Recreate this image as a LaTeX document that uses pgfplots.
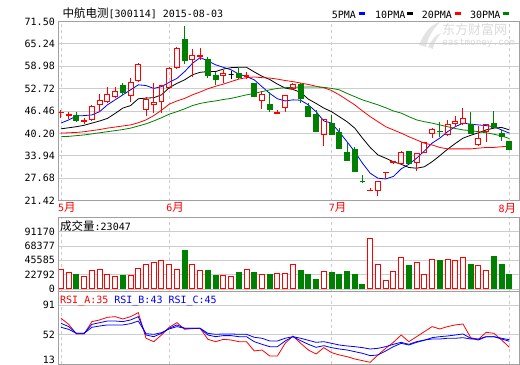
\documentclass[border=0pt]{standalone}
\usepackage{fontspec}
\usepackage{pgfplots}
\usepackage{pgfplotstable}
\pgfplotsset{compat=1.18}
\newfontfamily\cjk{Noto Sans CJK SC}
\newfontfamily\mono{DejaVu Sans Mono}
\newcommand\M[1]{{\mono\fontsize{10bp}{10bp}\selectfont #1}}
\newcommand\C[1]{{\cjk\fontsize{11.5bp}{12bp}\selectfont #1}}
\definecolor{kred}{RGB}{255,0,0}
\definecolor{kgreen}{RGB}{0,128,0}
\definecolor{kblue}{RGB}{0,0,255}
\definecolor{framec}{RGB}{160,160,160}
\definecolor{gridc}{RGB}{205,205,205}

\pgfplotstableread{
i o h l c k
0 46.05 46.8 44.6 46.15 1
1 45.3 46.3 44.3 45.4 1
2 45.1 46.1 43.5 43.9 2
3 43.6 44.5 42.8 43.7 1
4 44.2 48.2 43.7 47.8 1
5 48.4 51.3 46.1 49.3 1
6 49.1 53.1 48.6 51.2 1
7 50.6 53.3 50.0 52.0 1
8 53.7 54.4 51.0 51.6 2
9 50.7 55.6 48.9 54.5 1
10 54.9 59.8 54.7 59.55 1
11 46.8 50.3 45.0 49.6 1
12 48.4 54.2 45.9 48.9 1
13 49.1 53.8 45.8 53.5 1
14 53.0 58.9 52.7 58.4 1
15 58.6 64.5 58.4 64.0 1
16 66.6 70.3 59.6 60.6 2
17 60.9 63.7 56.1 62.0 1
18 61.8 64.0 60.8 62.0 1
19 61.0 61.5 55.8 56.4 2
20 56.3 57.5 53.8 55.3 2
21 56.4 58.0 54.2 57.1 1
22 56.6 57.7 55.4 56.6 0
23 56.9 58.6 55.4 55.8 2
24 56.0 57.3 55.4 56.3 1
25 54.2 54.4 50.5 50.5 2
26 49.3 52.1 47.0 51.0 1
27 48.4 51.7 46.3 46.8 2
28 45.9 46.8 45.6 46.0 1
29 47.5 51.0 46.3 50.7 1
30 52.8 54.2 52.4 54.0 1
31 53.8 54.2 48.6 50.0 2
32 47.7 48.6 44.9 44.9 2
33 45.4 46.8 40.7 40.7 2
34 39.8 44.0 36.8 44.0 1
35 43.0 45.4 40.0 40.0 2
36 40.4 41.7 36.1 36.1 2
37 34.9 37.6 32.6 32.6 2
38 35.6 36.5 29.5 29.5 2
39 26.85 28.6 26.6 26.75 2
40 24.3 24.9 24.3 24.4 1
41 24.2 26.9 22.6 26.9 1
42 29.2 29.5 27.8 29.35 1
43 32.0 32.5 31.7 32.4 1
44 31.9 35.3 31.6 35.0 1
45 35.3 35.3 31.9 31.9 2
46 32.1 34.7 29.6 34.7 1
47 34.9 37.9 34.7 37.6 1
48 40.1 41.7 38.9 41.2 1
49 40.8 43.3 39.3 40.7 2
50 39.8 44.0 39.6 42.6 1
51 43.0 45.2 41.9 43.5 1
52 43.0 47.4 42.6 44.4 1
53 42.6 46.3 40.3 40.3 2
54 37.0 42.4 36.6 38.9 1
55 40.7 42.9 37.9 42.6 1
56 42.9 46.5 41.7 41.9 2
57 40.3 41.2 38.1 39.3 2
58 37.9 38.1 35.6 35.6 2
}\candles

\pgfplotstableread{
i ma5 ma10 ma20 ma30
0 43.1 41.5 40.3 39.3
1 44.0 41.8 40.4 39.4
2 45.1 42.1 40.5 39.6
3 45.2 42.5 40.7 39.8
4 45.4 43.1 41.0 40.1
5 46.3 43.7 41.3 40.4
6 48.2 44.4 41.7 40.7
7 49.6 45.8 42.0 41.0
8 51.0 47.3 42.3 41.3
9 52.4 48.0 42.6 41.7
10 53.8 49.9 43.2 42.3
11 53.6 50.1 44.0 42.9
12 52.8 50.2 45.2 43.7
13 53.3 51.0 46.7 44.6
14 54.5 53.0 48.4 45.6
15 55.6 54.2 49.3 46.3
16 57.5 55.2 50.0 47.1
17 59.8 56.6 51.0 48.0
18 61.4 57.3 51.8 48.6
19 60.5 57.5 52.7 49.0
20 59.4 57.5 53.4 49.3
21 58.7 58.2 54.0 49.7
22 58.0 58.6 54.7 50.0
23 56.8 58.7 55.4 50.5
24 56.1 58.7 55.8 51.0
25 55.2 57.4 56.0 51.4
26 53.3 56.2 55.8 51.9
27 51.4 55.3 55.7 52.4
28 49.9 54.0 55.4 52.8
29 49.3 52.9 55.0 53.0
30 49.6 52.5 54.7 53.1
31 49.5 51.7 54.3 53.2
32 48.2 49.8 53.9 53.2
33 46.3 48.6 53.4 53.2
34 43.7 47.3 53.0 53.1
35 43.1 46.3 52.2 52.8
36 40.6 44.9 51.0 52.4
37 37.9 43.5 49.6 51.4
38 35.1 41.7 48.2 50.5
39 31.9 38.9 46.5 49.6
40 29.1 36.3 44.9 48.9
41 27.7 34.2 43.5 48.2
42 27.5 33.3 42.1 47.4
43 28.2 32.3 41.2 46.5
44 30.3 31.6 40.3 45.9
45 31.6 30.7 39.3 44.9
46 33.3 30.5 38.4 44.0
47 35.3 30.9 37.5 43.5
48 37.5 32.3 37.0 43.1
49 38.9 34.0 36.3 42.6
50 40.7 35.8 35.9 42.1
51 42.1 37.4 35.9 41.6
52 43.1 38.9 35.9 41.2
53 42.8 39.7 35.9 41.0
54 42.6 40.4 36.1 40.7
55 42.4 41.2 36.3 40.4
56 42.1 41.7 36.3 40.0
57 41.2 41.9 36.5 39.5
58 40.3 41.2 36.7 38.8
}\mas

\pgfplotstableread{
i v
0 31800
1 26000
3 19100
4 29700
5 31800
6 23850
7 19100
9 20700
10 32900
11 38200
12 42900
13 46100
14 38200
15 31800
17 39750
18 29700
21 20700
22 19100
24 31800
26 22300
28 25400
29 25400
30 39750
34 28600
40 80600
41 39750
42 14300
43 28600
44 50350
46 42900
47 23850
48 47200
50 47200
51 45600
52 50350
54 36600
55 30200
}\volup

\pgfplotstableread{
i v
2 22300
8 20700
16 62000
19 30200
20 20700
23 27000
25 26000
27 22300
31 30200
32 22300
33 15900
35 27000
36 22300
37 28600
38 23850
39 6400
45 36600
49 46100
53 38200
56 52500
57 38200
58 23047
}\voldn

\pgfplotstableread{
i a b c
0 73.4 66.8 61.5
1 65.4 62.4 58.8
2 52.7 53.5 53.5
3 52.7 53.5 53.5
4 69.0 65.4 61.5
5 71.2 67.6 63.2
6 74.7 69.8 64.6
7 75.6 69.8 64.6
8 72.5 69.0 64.6
9 75.6 71.2 66.3
10 80.9 75.6 69.8
11 47.0 51.3 53.1
12 42.5 49.1 52.2
13 51.3 53.5 54.4
14 61.5 60.2 59.3
15 67.6 64.6 62.4
16 58.8 60.2 60.2
17 59.7 60.2 60.2
18 60.2 60.2 60.2
19 45.6 51.3 53.5
20 42.5 49.1 52.2
21 45.6 50.5 52.7
22 44.7 50.5 52.7
23 42.5 49.1 52.2
24 42.5 49.1 52.2
25 30.2 42.5 48.3
26 31.5 39.0 47.0
27 23.6 35.9 43.4
28 23.6 35.9 43.4
29 40.3 43.4 47.0
30 50.0 49.1 49.1
31 40.3 43.8 47.0
32 31.5 39.0 44.3
33 26.2 35.0 41.6
34 34.6 37.2 42.5
35 28.0 34.6 40.3
36 24.9 32.8 38.1
37 22.7 31.5 36.8
38 19.6 29.3 35.9
39 17.4 27.1 34.6
40 15.2 24.0 32.8
41 24.9 24.9 33.7
42 33.7 30.2 35.9
43 41.6 35.9 39.0
44 51.3 40.3 41.6
45 42.5 38.1 39.0
46 49.1 41.6 42.5
47 55.7 44.3 44.7
48 62.4 47.8 46.0
49 59.3 49.1 46.0
50 62.4 50.0 47.0
51 64.6 51.3 47.0
52 65.9 52.7 47.8
53 47.8 47.0 46.0
54 45.6 44.7 46.0
55 54.9 49.1 49.1
56 53.5 49.1 49.1
57 44.7 46.0 47.0
58 35.0 43.0 45.0
}\rsi

\pgfplotsset{
  panel/.style={
    scale only axis, width=461bp,
    xmin=-0.32, xmax=59.31,
    axis line style={draw=framec},
    major tick length=0pt,
    xtick={0,14,35,58},
    xmajorgrids, ymajorgrids,
    grid style={draw=gridc, line width=0.8bp},
    x grid style={dash pattern=on 3bp off 3bp},
    tick label style={font=\mono\fontsize{10bp}{10bp}\selectfont, inner sep=0pt},
    yticklabel style={anchor=east, xshift=-3.5bp},
    scaled y ticks=false,
  },
}

\begin{document}
\begin{tikzpicture}
\path[use as bounding box] (0,0) rectangle (520bp,365bp);

% watermark
\fill[gray!22] (419bp,320bp) .. controls (424bp,332bp) and (430bp,340bp) .. (440bp,343bp)
  .. controls (433bp,336bp) and (428bp,328bp) .. (426bp,318bp) -- cycle;
\fill[gray!22] (428bp,318bp) .. controls (432bp,326bp) and (436bp,330bp) .. (441bp,332bp)
  .. controls (437bp,327bp) and (434bp,322bp) .. (433bp,316bp) -- cycle;
\node[anchor=west, inner sep=0pt, text=gray!30] at (442bp,335bp)
  {\cjk\fontsize{13bp}{13bp}\selectfont 东方财富网};
\node[anchor=west, inner sep=0pt, text=gray!30] at (442bp,322bp)
  {\mono\fontsize{9.3bp}{9.3bp}\selectfont eastmoney.com};

% price panel
\begin{axis}[panel, at={(58.5bp,164.3bp)}, anchor=south west, height=179.2bp,
  ymin=21.42, ymax=71.50,
  ytick={21.42,27.68,33.94,40.20,46.46,52.72,58.98,65.24,71.50},
  yticklabels={21.42,27.68,33.94,40.20,46.46,52.72,58.98,65.24,71.50},
  xtick={0,14,35},
  xticklabels={{\M{5}\C{月}},{\M{6}\C{月}},{\M{7}\C{月}}},
  xticklabel style={anchor=north west, xshift=-3bp, yshift=-1.5bp, text=kred},
  extra x ticks={58},
  extra x tick labels={{\M{8}\C{月}}},
  extra x tick style={xticklabel style={anchor=north east, xshift=10bp, yshift=-1.5bp, text=kred},
    grid style={draw=gridc, line width=0.8bp, dash pattern=on 3bp off 3bp}},
]
\addplot[kblue, line width=0.8bp] table[x=i, y=ma5] {\mas};
\addplot[black, line width=0.8bp] table[x=i, y=ma10] {\mas};
\addplot[kred, line width=0.8bp] table[x=i, y=ma20] {\mas};
\addplot[kgreen, line width=0.8bp] table[x=i, y=ma30] {\mas};

\pgfplotstablegetrowsof{\candles}
\pgfmathtruncatemacro\Nc{\pgfplotsretval-1}
\pgfplotsforeachungrouped \r in {0,...,\Nc}{%
  \pgfplotstablegetelem{\r}{i}\of\candles \let\ci\pgfplotsretval
  \pgfplotstablegetelem{\r}{o}\of\candles \let\co\pgfplotsretval
  \pgfplotstablegetelem{\r}{h}\of\candles \let\ch\pgfplotsretval
  \pgfplotstablegetelem{\r}{l}\of\candles \let\cl\pgfplotsretval
  \pgfplotstablegetelem{\r}{c}\of\candles \let\cc\pgfplotsretval
  \pgfplotstablegetelem{\r}{k}\of\candles \let\ck\pgfplotsretval
  \pgfmathsetmacro\xa{\ci-0.32}%
  \pgfmathsetmacro\xb{\ci+0.32}%
  \pgfmathsetmacro\bl{min(\co,\cc)}%
  \pgfmathsetmacro\bh{max(\co,\cc)}%
  \ifcase\ck \def\cs{black}\def\cf{none}\or \def\cs{kred}\def\cf{none}\or \def\cs{kgreen}\def\cf{kgreen}\fi
  \edef\tmp{%
    \noexpand\addplot[draw=\cs, line width=1bp, forget plot] coordinates {(\ci,\cl) (\ci,\bl)};
    \noexpand\addplot[draw=\cs, line width=1bp, forget plot] coordinates {(\ci,\bh) (\ci,\ch)};
    \noexpand\addplot[draw=\cs, fill=\cf, line width=1bp, forget plot] coordinates {(\xa,\co) (\xb,\co) (\xb,\cc) (\xa,\cc)} -- cycle;
  }\tmp
}
\end{axis}

% volume panel
\begin{axis}[panel, at={(58.5bp,73.5bp)}, anchor=south west, height=74.5bp,
  ymin=-3978, ymax=114558,
  ytick={0,22792,45585,68377,91170},
  yticklabels={0,22792,45585,68377,91170},
  xticklabels={},
]
\addplot[ybar, bar width=5bp, bar shift=0pt, draw=kred, fill=white, line width=1bp] table[x=i, y=v] {\volup};
\addplot[ybar, bar width=5bp, bar shift=0pt, draw=kgreen, fill=kgreen, line width=1bp] table[x=i, y=v] {\voldn};
\end{axis}

% RSI panel
\begin{axis}[panel, at={(58.5bp,0.5bp)}, anchor=south west, height=73bp,
  ymin=12.3, ymax=108.85,
  ytick={52,91}, yticklabels={52,91},
  extra y ticks={13}, extra y tick labels={13},
  extra y tick style={yticklabel style={anchor=south east}, ymajorgrids=false},
  xticklabels={},
]
\addplot[kred, line width=0.8bp] table[x=i, y=a] {\rsi};
\addplot[kblue, line width=0.8bp] table[x=i, y=b] {\rsi};
\addplot[kblue, line width=0.8bp] table[x=i, y=c] {\rsi};
\end{axis}

% texts
\node[anchor=west, inner sep=0pt] at (62.5bp,352bp) {\C{中航电测}\M{[300114] 2015-08-03}};
\node[anchor=west, inner sep=0pt] at (331.7bp,350bp) {\M{5PMA}};
\node[anchor=west, inner sep=0pt] at (359bp,351bp) {\textcolor{kblue}{\rule[-1.5bp]{6bp}{3bp}}};
\node[anchor=west, inner sep=0pt] at (375bp,350bp) {\M{10PMA}};
\node[anchor=west, inner sep=0pt] at (406.7bp,351bp) {\textcolor{black}{\rule[-1.5bp]{6bp}{3bp}}};
\node[anchor=west, inner sep=0pt] at (421.7bp,350bp) {\M{20PMA}};
\node[anchor=west, inner sep=0pt] at (455bp,351bp) {\textcolor{kred}{\rule[-1.5bp]{6bp}{3bp}}};
\node[anchor=west, inner sep=0pt] at (470bp,350bp) {\M{30PMA}};
\node[anchor=west, inner sep=0pt] at (502.7bp,351bp) {\textcolor{kgreen}{\rule[-1.5bp]{6bp}{3bp}}};
\node[anchor=west, inner sep=0pt] at (60bp,139bp) {\C{成交量}\M{:23047}};
\node[anchor=west, inner sep=0pt] at (60bp,64.5bp) {\textcolor{kred}{\M{RSI\_A:35}}\M{ }\textcolor{kblue}{\M{RSI\_B:43 RSI\_C:45}}};
\end{tikzpicture}
\end{document}
